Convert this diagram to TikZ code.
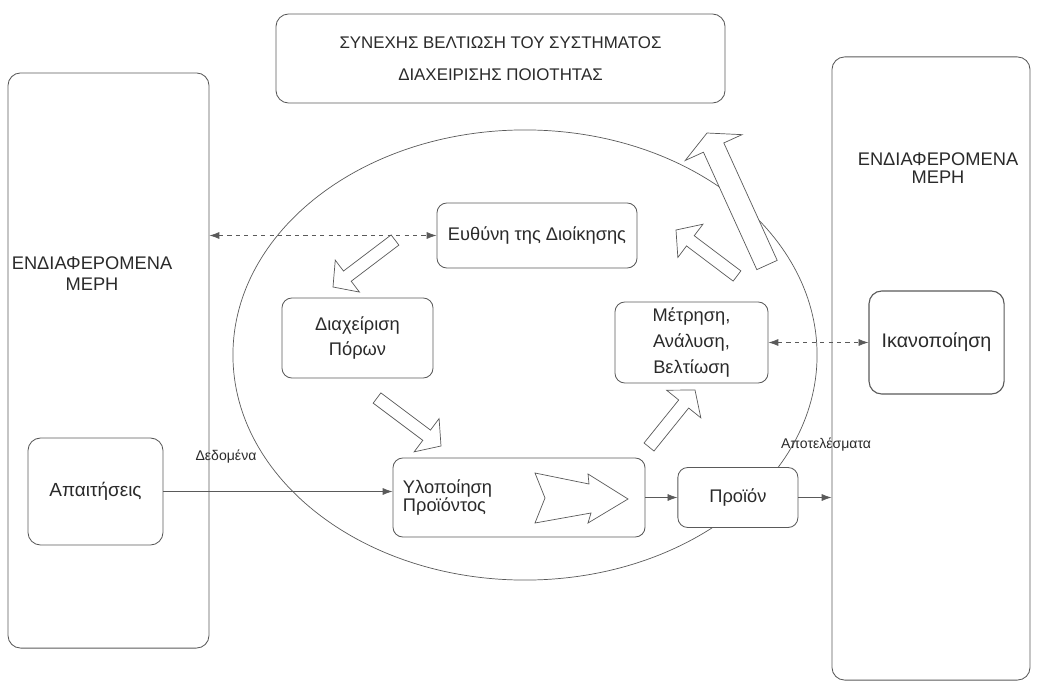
\documentclass[tikz,border=0pt]{standalone}
\usepackage{fontspec}
\setmainfont{Liberation Sans}
\usetikzlibrary{arrows.meta,positioning,calc}
\definecolor{linegray}{HTML}{5A5A5A}
\definecolor{inktext}{HTML}{2A2A2A}

% hollow block arrow: tail, tip, half shaft, half head, head length
\newcommand{\hollowarrow}[5]{%
  \coordinate (hb) at ($(#2)!#5!(#1)$);
  \draw[bigarrow] ($(#1)!#3!90:(#2)$) -- ($(hb)!#3!90:(#2)$) -- ($(hb)!#4!90:(#2)$) -- (#2)
    -- ($(hb)!#4!-90:(#2)$) -- ($(hb)!#3!-90:(#2)$) -- ($(#1)!#3!-90:(#2)$) -- cycle;}

\begin{document}
\begin{tikzpicture}[x=0.025cm, y=-0.025cm,
  block/.style={rectangle, rounded corners=7pt, draw=linegray, line width=0.6pt,
                fill=white, font=\fontsize{13}{18.5}\selectfont, text=inktext,
                align=center, inner sep=2pt},
  party/.style={block, rounded corners=9pt},
  bigarrow/.style={draw=linegray, line width=0.5pt, fill=white, line join=miter},
  flow/.style={-{Latex[length=7pt, width=5pt]}, draw=linegray, line width=0.5pt},
  link/.style={{Latex[length=7pt, width=5pt]}-{Latex[length=7pt, width=5pt]},
               draw=linegray, dashed, line width=0.5pt},
  tag/.style={font=\fontsize{10}{12}\selectfont, text=inktext},
]
  \useasboundingbox (0,0) rectangle (1037,689);

  % stakeholders on both sides and the goal on top
  \node[party, fill=none, minimum width=5.025cm, minimum height=14.375cm] (partiesL) at (108.5,360.5) {};
  \node[party, fill=none, minimum width=4.95cm, minimum height=15.575cm] (partiesR) at (931,368.5) {};
  \node[font=\fontsize{13}{15}\selectfont, text=inktext, align=center] (partiesLtext) at (92,274) {ΕΝΔΙΑΦΕΡΟΜΕΝΑ\\ΜΕΡΗ};
  \node[font=\fontsize{13}{12.5}\selectfont, text=inktext, align=center] (partiesRtext) at (938,168) {ΕΝΔΙΑΦΕΡΟΜΕΝΑ\\ΜΕΡΗ};
  \node[party, minimum width=11.225cm, minimum height=2.225cm, font=\fontsize{12}{23}\selectfont] (goal) at (500.5,58.5)
    {ΣΥΝΕΧΗΣ ΒΕΛΤΙΩΣΗ ΤΟΥ ΣΥΣΤΗΜΑΤΟΣ\\ΔΙΑΧΕΙΡΙΣΗΣ ΠΟΙΟΤΗΤΑΣ};

  % the process cycle
  \draw[linegray, line width=0.5pt] (525,355) ellipse [x radius=7.3cm, y radius=5.625cm];

  \node[block, minimum width=5cm, minimum height=1.625cm] (mgmt) at (537,235.5) {Ευθύνη της Διοίκησης};
  \node[block, minimum width=3.775cm, minimum height=2cm, font=\fontsize{13}{18}\selectfont] (resources) at (357.5,338) {Διαχείριση\\Πόρων};
  \node[block, minimum width=3.825cm, minimum height=2.025cm] (measure) at (691.5,342.5) {Μέτρηση,\\Ανάλυση,\\Βελτίωση};
  \node[block, rounded corners=9pt, line width=0.8pt, minimum width=3.375cm, minimum height=2.575cm,
        font=\fontsize{14}{16}\selectfont, right=2.5cm of measure] (satisf) {Ικανοποίηση};
  \node[block, rounded corners=9pt, minimum width=3.375cm, minimum height=2.675cm,
        font=\fontsize{13.5}{16}\selectfont] (reqs) at (95.5,491.5) {Απαιτήσεις};
  \node[block, minimum width=6.3cm, minimum height=1.975cm, text width=5.8cm, align=left,
        font=\fontsize{13}{13.5}\selectfont] (realize) at (519,497.5) {Υλοποίηση\\Προϊόντος};
  \node[block, minimum width=3cm, minimum height=1.5cm, right=0.8cm of realize] (product) {Προϊόν};

  % hollow arrows of the cycle
  \coordinate (a1tail) at (395,240);  \coordinate (a1tip) at (333,287);
  \coordinate (a2tail) at (377,398);  \coordinate (a2tip) at (441,446);
  \coordinate (a3tail) at (649,447);  \coordinate (a3tip) at (695,390);
  \coordinate (a4tail) at (737,276);  \coordinate (a4tip) at (676,230);
  \coordinate (a5tail) at (767,265);  \coordinate (a5tip) at (707,133);
  \hollowarrow{a1tail}{a1tip}{0.16cm}{0.5cm}{0.45cm}
  \hollowarrow{a2tail}{a2tip}{0.16cm}{0.52cm}{0.45cm}
  \hollowarrow{a3tail}{a3tip}{0.16cm}{0.55cm}{0.45cm}
  \hollowarrow{a4tail}{a4tip}{0.16cm}{0.52cm}{0.45cm}
  \hollowarrow{a5tail}{a5tip}{0.28cm}{0.78cm}{0.4cm}
  \draw[bigarrow] (535,473) -- (589,484) -- (588,474) -- (628,499)
    -- (588,523) -- (591,513) -- (535,523) -- (545,498) -- cycle;

  % inputs and outputs
  \draw[flow] (reqs.east) -- (reqs.east -| realize.west);
  \draw[flow] (realize.east) -- (product.west);
  \draw[flow] (product.east) -- (product.east -| partiesR.west);
  \draw[link] (partiesL.east |- mgmt.west) -- (mgmt.west);
  \draw[link] (measure.east) -- (measure.east -| satisf.west);
  \node[tag] (datalabel) at (226,457) {Δεδομένα};
  \node[tag] (resultlabel) at (826,445) {Αποτελέσματα};
\end{tikzpicture}
\end{document}
